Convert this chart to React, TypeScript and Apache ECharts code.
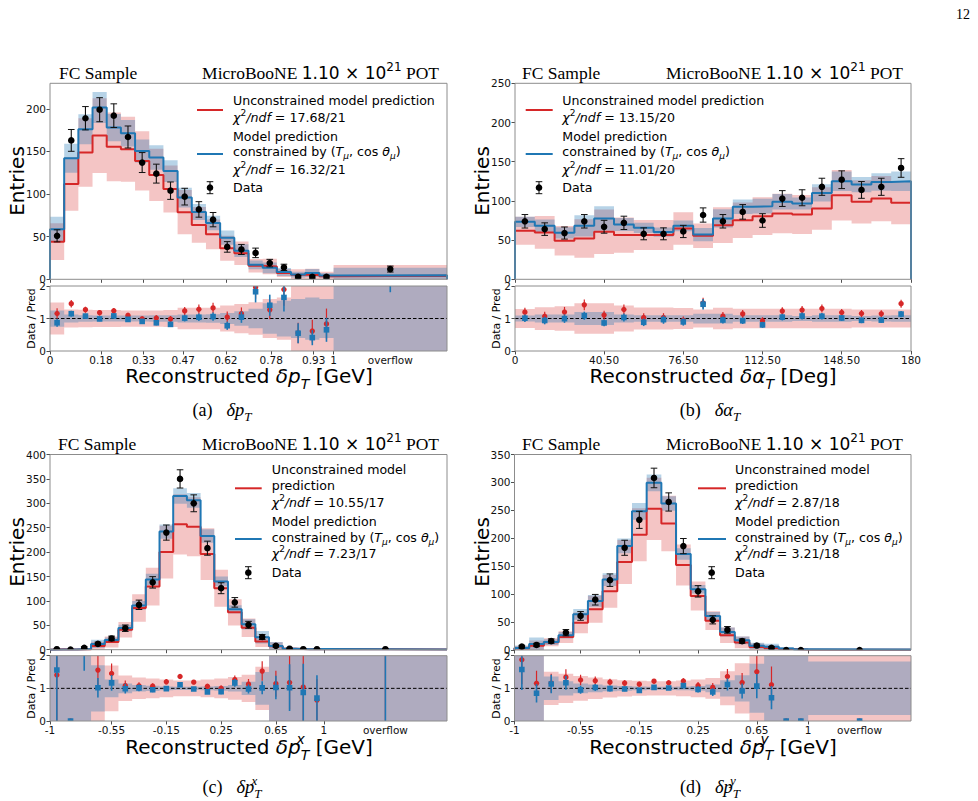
import { useEffect, useRef } from 'react';
import * as echarts from 'echarts';

const SANS = "'DejaVu Sans', 'Noto Sans', sans-serif";
const SERIF = "'Liberation Serif', 'DejaVu Serif', serif";
const RED = '#d62728';
const BLUE = '#1f77b4';
const RED_BAND = 'rgba(214, 39, 40, 0.27)';
const BLUE_BAND = 'rgba(31, 119, 180, 0.32)';
const FRAME = '#8c8c8c';

// ---------- (a) delta pT : 20 bins of 0.05 GeV + overflow ----------
const dptEdges = [0, 0.05, 0.1, 0.15, 0.2, 0.25, 0.3, 0.35, 0.4, 0.45, 0.5, 0.55, 0.6, 0.65, 0.7, 0.75, 0.8, 0.85, 0.9, 0.95, 1.0, 1.4];
const dptUnconstrained = [44.2, 111.9, 148.7, 168.7, 155.4, 152.6, 138.9, 122.5, 106.0, 78.7, 63.8, 52.8, 36.4, 30.5, 15.8, 15.0, 7.4, 5.4, 4.9, 3.6, 4.3];
const dptConstrained = [58.7, 142.0, 176.0, 201.6, 178.0, 171.4, 150.5, 143.0, 127.0, 95.9, 79.0, 66.1, 48.9, 33.6, 17.0, 13.5, 8.5, 5.5, 7.3, 4.6, 4.7];
const dptData = [51, 163, 189, 199, 192, 167, 137, 124, 104, 97, 82, 70, 38, 35, 31, 19, 14, 3, 3, 3, 12];
const dptDataErr = [7.1, 12.8, 13.7, 14.1, 13.9, 12.9, 11.7, 11.1, 10.2, 9.8, 9.1, 8.4, 6.2, 5.9, 5.6, 4.4, 3.7, 1.7, 1.7, 1.7, 3.5];
const dptUnconstrainedRelErr = [0.49, 0.28, 0.27, 0.26, 0.26, 0.25, 0.25, 0.25, 0.26, 0.33, 0.33, 0.33, 0.4, 0.45, 0.5, 0.6, 0.65, 1.2, 1.5, 1.5, 2.9];
const dptConstrainedRelErr = [0.25, 0.12, 0.1, 0.09, 0.09, 0.09, 0.09, 0.1, 0.1, 0.12, 0.12, 0.13, 0.17, 0.22, 0.3, 0.47, 0.55, 0.6, 0.65, 0.6, 1.9];
const dptTickValues = [0, 0.18, 0.33, 0.47, 0.62, 0.78, 0.93, 1];
const dptTickLabels = ['0', '0.18', '0.33', '0.47', '0.62', '0.78', '0.93', '1'];

// ---------- (b) delta alphaT : 20 bins of 9 deg ----------
const datEdges = [0, 9, 18, 27, 36, 45, 54, 63, 72, 81, 90, 99, 108, 117, 126, 135, 144, 153, 162, 171, 180];
const datUnconstrained = [61.9, 59.8, 49.2, 52.1, 60.6, 56.4, 56.4, 56.4, 64.8, 55.5, 69.0, 75.4, 80.5, 83.9, 82.6, 90.3, 107.2, 98.8, 103.0, 97.5];
const datConstrained = [73.3, 68.2, 59.3, 68.2, 77.6, 69.9, 65.7, 60.2, 68.2, 57.0, 77.6, 92.4, 93.3, 98.8, 96.6, 110.2, 125.0, 120.8, 124.2, 125.0];
const datData = [74, 64, 59, 74, 67, 72, 58, 58, 61, 82, 74, 86, 75, 103, 104, 118, 127, 114, 118, 142];
const datDataErr = [8.6, 8.0, 7.7, 8.6, 8.2, 8.5, 7.6, 7.6, 7.8, 9.1, 8.6, 9.3, 8.7, 10.1, 10.2, 10.9, 11.3, 10.7, 10.9, 11.9];
const datUnconstrainedRelErr = [0.29, 0.35, 0.38, 0.47, 0.47, 0.4, 0.34, 0.34, 0.32, 0.28, 0.33, 0.3, 0.3, 0.3, 0.3, 0.3, 0.3, 0.28, 0.28, 0.28];
const datConstrainedRelErr = [0.09, 0.12, 0.12, 0.2, 0.2, 0.12, 0.1, 0.1, 0.1, 0.15, 0.15, 0.1, 0.1, 0.1, 0.08, 0.1, 0.1, 0.08, 0.09, 0.1];
const datTickValues = [0, 40.5, 76.5, 112.5, 148.5, 180];
const datTickLabels = ['0', '40.50', '76.50', '112.50', '148.50', '180'];

// ---------- (c) delta pT^x : 20 bins of 0.1 GeV + overflow ----------
const dpxEdges = [-1, -0.9, -0.8, -0.7, -0.6, -0.5, -0.4, -0.3, -0.2, -0.1, 0, 0.1, 0.2, 0.3, 0.4, 0.5, 0.6, 0.7, 0.8, 0.9, 1.0, 1.9];
const dpxUnconstrained = [0.71, 0.5, 1.0, 7.7, 15.8, 40.7, 85.6, 129.3, 200.0, 257.0, 252.0, 196.0, 126.0, 76.6, 45.2, 17.0, 7.0, 1.7, 0.96, 1.56, 0.35];
const dpxConstrained = [0.64, 0.4, 1.3, 11.8, 19.7, 44.5, 90.7, 144.0, 242.0, 315.0, 306.0, 233.0, 140.0, 83.0, 52.0, 25.6, 7.8, 1.96, 1.14, 1.43, 0.4];
const dpxData = [1, 0, 4, 12, 23, 44, 92, 138, 240, 350, 300, 208, 126, 97, 51, 26, 8, 2, 1, 1, 1];
const dpxDataErr = [1, 0, 2, 3.5, 4.8, 6.6, 9.6, 11.7, 15.5, 18.7, 17.3, 14.4, 11.2, 9.8, 7.1, 5.1, 2.8, 1.4, 1, 1, 1];
const dpxUnconstrainedRelErr = [1.2, 1.2, 1.2, 1.1, 0.7, 0.39, 0.33, 0.3, 0.27, 0.24, 0.24, 0.27, 0.3, 0.35, 0.42, 0.66, 1.2, 1.2, 1.2, 1.2, 1.2];
const dpxConstrainedRelErr = [1.1, 1.1, 1.1, 0.71, 0.27, 0.15, 0.1, 0.08, 0.06, 0.05, 0.05, 0.06, 0.07, 0.1, 0.2, 0.5, 1.0, 1.0, 1.0, 1.0, 1.0];
const dpxyTickValues = [-1, -0.55, -0.15, 0.25, 0.65, 1];
const dpxyTickLabels = ['-1', '-0.55', '-0.15', '0.25', '0.65', '1'];

// ---------- (d) delta pT^y : 20 bins of 0.1 GeV + overflow ----------
const dpyEdges = [-1, -0.9, -0.8, -0.7, -0.6, -0.5, -0.4, -0.3, -0.2, -0.1, 0, 0.1, 0.2, 0.3, 0.4, 0.5, 0.6, 0.7, 0.8, 0.9, 1.0, 1.7];
const dpyUnconstrained = [3.2, 7.8, 13.8, 23.1, 48.6, 73.0, 105.0, 157.5, 206.5, 252.7, 226.4, 152.2, 96.6, 52.5, 26.4, 13.6, 5.3, 3.6, 2.0, 1.0, 0.6];
const dpyConstrained = [3.8, 10.6, 14.1, 26.5, 63.9, 87.9, 126.0, 186.4, 248.2, 299.3, 262.3, 171.9, 108.6, 60.9, 32.2, 17.4, 7.5, 5.6, 2.5, 1.2, 0.7];
const dpyData = [6, 9, 16, 31, 61, 90, 125, 183, 233, 308, 265, 186, 105, 54, 36, 16, 8, 4, 0, 0, 0];
const dpyDataErr = [2.4, 3.0, 4.0, 5.6, 7.8, 9.5, 11.2, 13.5, 15.3, 17.5, 16.3, 13.6, 10.2, 7.3, 6.0, 4.0, 2.8, 2.0, 0, 0, 0];
const dpyUnconstrainedRelErr = [1.2, 1.2, 0.51, 0.45, 0.38, 0.33, 0.28, 0.25, 0.23, 0.22, 0.22, 0.24, 0.27, 0.32, 0.52, 0.77, 1.2, 1.2, 1.2, 1.2, 1.2];
const dpyConstrainedRelErr = [1.1, 1.1, 0.36, 0.22, 0.15, 0.12, 0.09, 0.07, 0.06, 0.05, 0.05, 0.06, 0.07, 0.12, 0.25, 0.4, 0.75, 1.0, 1.0, 1.0, 0.82];

const ratioTicks = [0, 1, 2];

type Panel = {
  edges: number[]; unc: number[]; con: number[]; data: number[]; err: number[];
  uncRel: number[]; conRel: number[]; yMax: number; yTicks: number[];
  tickValues: number[]; tickLabels: string[]; overflowAt: number | null;
};

const PANELS: Panel[] = [
  { edges: dptEdges, unc: dptUnconstrained, con: dptConstrained, data: dptData, err: dptDataErr,
    uncRel: dptUnconstrainedRelErr, conRel: dptConstrainedRelErr, yMax: 230, yTicks: [0, 50, 100, 150, 200],
    tickValues: dptTickValues, tickLabels: dptTickLabels, overflowAt: 1.2 },
  { edges: datEdges, unc: datUnconstrained, con: datConstrained, data: datData, err: datDataErr,
    uncRel: datUnconstrainedRelErr, conRel: datConstrainedRelErr, yMax: 250, yTicks: [0, 50, 100, 150, 200, 250],
    tickValues: datTickValues, tickLabels: datTickLabels, overflowAt: null },
  { edges: dpxEdges, unc: dpxUnconstrained, con: dpxConstrained, data: dpxData, err: dpxDataErr,
    uncRel: dpxUnconstrainedRelErr, conRel: dpxConstrainedRelErr, yMax: 400, yTicks: [0, 50, 100, 150, 200, 250, 300, 350, 400],
    tickValues: dpxyTickValues, tickLabels: dpxyTickLabels, overflowAt: 1.45 },
  { edges: dpyEdges, unc: dpyUnconstrained, con: dpyConstrained, data: dpyData, err: dpyDataErr,
    uncRel: dpyUnconstrainedRelErr, conRel: dpyConstrainedRelErr, yMax: 350, yTicks: [0, 50, 100, 150, 200, 250, 300, 350],
    tickValues: dpxyTickValues, tickLabels: dpxyTickLabels, overflowAt: 1.35 },
];

// grid rectangles: [main, ratio] for each panel
const GRIDS = [
  [{ left: 50, top: 83.3, width: 397, height: 196 }, { left: 50, top: 286, width: 397, height: 65 }],
  [{ left: 515, top: 83.3, width: 396, height: 196 }, { left: 515, top: 286, width: 396, height: 65 }],
  [{ left: 50, top: 454.5, width: 397, height: 195.2 }, { left: 50, top: 655.7, width: 397, height: 65.3 }],
  [{ left: 514.5, top: 454.5, width: 396.5, height: 195.5 }, { left: 514.5, top: 655.7, width: 396.5, height: 65.3 }],
];

const stepPoints = (edges: number[], vals: number[]) => {
  const pts: number[][] = [[edges[0], 0]];
  vals.forEach((v, i) => pts.push([edges[i], v]));
  pts.push([edges[edges.length - 1], vals[vals.length - 1]]);
  pts.push([edges[edges.length - 1], 0]);
  return pts;
};

const bandSeries = (rows: number[][], fill: string, axis: number, z: number) => ({
  type: 'custom', xAxisIndex: axis, yAxisIndex: axis, z, clip: true, silent: true,
  data: rows,
  renderItem: (params: any, api: any) => {
    if (params.dataIndex !== 0) return null;
    const pts: number[][] = [];
    rows.forEach((r) => { pts.push(api.coord([r[0], r[3]])); pts.push(api.coord([r[1], r[3]])); });
    for (let i = rows.length - 1; i >= 0; i--) {
      pts.push(api.coord([rows[i][1], rows[i][2]]));
      pts.push(api.coord([rows[i][0], rows[i][2]]));
    }
    return { type: 'polygon', shape: { points: pts }, style: { fill } };
  },
});

const pointSeries = (rows: number[][], axis: number, z: number, kind: 'data' | 'red' | 'blue') => ({
  type: 'custom', xAxisIndex: axis, yAxisIndex: axis, z, clip: true, silent: true,
  data: rows,
  renderItem: (_params: any, api: any) => {
    const x = api.value(0), y = api.value(1), e = api.value(2);
    const c = api.coord([x, y]);
    const color = kind === 'data' ? '#111' : kind === 'red' ? RED : BLUE;
    const width = kind === 'data' ? 1.1 : kind === 'red' ? 1.2 : 1.6;
    const children: any[] = [];
    if (e > 0) {
      const t = api.coord([x, y + e]);
      const b = api.coord([x, y - e]);
      children.push({ type: 'line', shape: { x1: c[0], y1: t[1], x2: c[0], y2: b[1] }, style: { stroke: color, lineWidth: width } });
      if (kind === 'data') {
        children.push({ type: 'line', shape: { x1: c[0] - 3.3, y1: t[1], x2: c[0] + 3.3, y2: t[1] }, style: { stroke: color, lineWidth: 1 } });
        children.push({ type: 'line', shape: { x1: c[0] - 3.3, y1: b[1], x2: c[0] + 3.3, y2: b[1] }, style: { stroke: color, lineWidth: 1 } });
      }
    }
    if (kind === 'data') children.push({ type: 'circle', shape: { cx: c[0], cy: c[1], r: 3.3 }, style: { fill: '#000' } });
    else if (kind === 'red') children.push({ type: 'circle', shape: { cx: c[0], cy: c[1], r: 2.7 }, style: { fill: RED } });
    else children.push({ type: 'rect', shape: { x: c[0] - 2.8, y: c[1] - 2.8, width: 5.6, height: 5.6 }, style: { fill: BLUE } });
    return { type: 'group', children };
  },
});

const textEl = (x: number, y: number, text: string, extra: any = {}, rotation = 0) => {
  const { align = 'left', verticalAlign = 'middle', ...rest } = extra;
  return {
    type: 'text', x, y, rotation, silent: true, z: 100,
    style: { text, fill: '#000', align, verticalAlign, textAlign: align, textVerticalAlign: verticalAlign, ...rest },
  };
};

const legendRich = {
  n: { fontFamily: SANS, fontSize: 12.6, lineHeight: 18 },
  i: { fontFamily: SANS, fontSize: 12.6, fontStyle: 'italic', lineHeight: 18 },
  sup: { fontFamily: SANS, fontSize: 9, lineHeight: 10, verticalAlign: 'top' },
  sub: { fontFamily: SANS, fontSize: 9, fontStyle: 'italic', lineHeight: 10, verticalAlign: 'bottom' },
};
const chiText = (v: string) => `{i|χ}{sup|2}{i|/ndf}{n| = ${v}}`;
const constrainedText = '{n|constrained by (}{i|T}{sub|μ}{n|, cos }{i|θ}{sub|μ}{n|)}';

const titleRich = {
  s: { fontFamily: SERIF, fontSize: 17.5, lineHeight: 24 },
  m: { fontFamily: SANS, fontSize: 17, lineHeight: 24 },
  e: { fontFamily: SANS, fontSize: 12, lineHeight: 13, verticalAlign: 'top' },
};
const xTitleRich = {
  n: { fontFamily: SANS, fontSize: 20, lineHeight: 30 },
  i: { fontFamily: SANS, fontSize: 20, fontStyle: 'italic', lineHeight: 30 },
  sub: { fontFamily: SANS, fontSize: 14, fontStyle: 'italic', lineHeight: 16, verticalAlign: 'bottom' },
  sup: { fontFamily: SANS, fontSize: 14, fontStyle: 'italic', lineHeight: 16, verticalAlign: 'top', width: 0 },
};
const capRich = {
  n: { fontFamily: SERIF, fontSize: 18, lineHeight: 26 },
  g: { fontFamily: SERIF, fontSize: 18, lineHeight: 26, width: 14 },
  i: { fontFamily: SERIF, fontSize: 18.5, fontStyle: 'italic', lineHeight: 26 },
  sub: { fontFamily: SERIF, fontSize: 13, fontStyle: 'italic', lineHeight: 14, verticalAlign: 'bottom' },
  sup: { fontFamily: SERIF, fontSize: 13, fontStyle: 'italic', lineHeight: 14, verticalAlign: 'top', width: 0 },
};

const LEGENDS = [
  { hx0: 197, hx1: 223, tx: 233, redY: 110, blueY: 154, dot: [210, 187.7],
    rows: [[100.7, '{n|Unconstrained model prediction}'], [117, chiText('17.68/21')], [136.7, '{n|Model prediction}'],
      [151.7, constrainedText], [169, chiText('16.32/21')], [187.7, '{n|Data}']] },
  { hx0: 525.7, hx1: 552.7, tx: 562.3, redY: 110, blueY: 154, dot: [539, 187.7],
    rows: [[100.7, '{n|Unconstrained model prediction}'], [117, chiText('13.15/20')], [136.7, '{n|Model prediction}'],
      [151.7, constrainedText], [169, chiText('11.01/20')], [187.7, '{n|Data}']] },
  { hx0: 235, hx1: 261.7, tx: 271.7, redY: 488.3, blueY: 539, dot: [248.3, 572.7],
    rows: [[469.7, '{n|Unconstrained model}'], [485.7, '{n|prediction}'], [502.3, chiText('10.55/17')], [521.7, '{n|Model prediction}'],
      [537, constrainedText], [553.3, chiText('7.23/17')], [572.7, '{n|Data}']] },
  { hx0: 698, hx1: 726, tx: 735, redY: 488.3, blueY: 539, dot: [711.7, 572.7],
    rows: [[469.7, '{n|Unconstrained model}'], [485.7, '{n|prediction}'], [502.3, chiText('2.87/18')], [521.7, '{n|Model prediction}'],
      [537, constrainedText], [553.3, chiText('3.21/18')], [572.7, '{n|Data}']] },
];

const TITLES = [
  { fcX: 59, potX: 439, y: 73 },
  { fcX: 522, potX: 903, y: 73 },
  { fcX: 58, potX: 439, y: 444 },
  { fcX: 522, potX: 903, y: 444 },
];
const X_TITLES = [
  { x: 249, y: 376, text: '{n|Reconstructed }{i|δp}{sub|T}{n| [GeV]}' },
  { x: 713, y: 376, text: '{n|Reconstructed }{i|δα}{sub|T}{n| [Deg]}' },
  { x: 249, y: 747, text: '{n|Reconstructed }{i|δp}{sup|x}{sub|T}{n| [GeV]}' },
  { x: 713, y: 747, text: '{n|Reconstructed }{i|δp}{sup|y}{sub|T}{n| [GeV]}' },
];
const CAPTIONS = [
  { x: 222, y: 410, text: '{n|(a)}{g| }{i|δp}{sub|T}' },
  { x: 710, y: 410, text: '{n|(b)}{g| }{i|δα}{sub|T}' },
  { x: 232, y: 787, text: '{n|(c)}{g| }{i|δp}{sup|x}{sub|T}' },
  { x: 710, y: 787, text: '{n|(d)}{g| }{i|δp}{sup|y}{sub|T}' },
];
const Y_LABELS = [
  { entries: [17, 181], ratio: [31, 318.5] },
  { entries: [482, 181], ratio: [496, 318.5] },
  { entries: [17, 552], ratio: [31, 688.5] },
  { entries: [482, 552], ratio: [496, 688.5] },
];

function buildOption() {
  const grid: any[] = [];
  const xAxis: any[] = [];
  const yAxis: any[] = [];
  const series: any[] = [];
  const graphics: any[] = [];

  PANELS.forEach((p, k) => {
    const mi = 2 * k;
    const ri = 2 * k + 1;
    const xMin = p.edges[0];
    const xMax = p.edges[p.edges.length - 1];
    const n = p.data.length;
    const mid = (i: number) => (p.edges[i] + p.edges[i + 1]) / 2;

    GRIDS[k].forEach((g) => grid.push({
      ...g, show: true, borderColor: FRAME, borderWidth: 1, backgroundColor: 'rgba(0,0,0,0)', z: 10, containLabel: false,
    }));

    const labelValues = p.overflowAt == null ? p.tickValues : [...p.tickValues, p.overflowAt];
    const fmt = (v: number) => {
      if (p.overflowAt != null && Math.abs(v - p.overflowAt) < 1e-9) return 'overflow';
      const idx = p.tickValues.findIndex((t) => Math.abs(t - v) < 1e-9);
      return idx >= 0 ? p.tickLabels[idx] : '';
    };
    const tickStyle = { show: true, length: 3.5, lineStyle: { color: '#222', width: 0.8 } };
    const labelStyle = { fontSize: 10.5, fontFamily: SANS, color: '#111' };
    const noLine = { show: false, onZero: false };

    xAxis.push({
      type: 'value', gridIndex: mi, min: xMin, max: xMax, position: 'bottom',
      axisLine: noLine, splitLine: { show: false },
      axisTick: { ...tickStyle, customValues: p.tickValues }, axisLabel: { show: false },
    });
    xAxis.push({
      type: 'value', gridIndex: ri, min: xMin, max: xMax, position: 'bottom',
      axisLine: noLine, splitLine: { show: false },
      axisTick: { ...tickStyle, customValues: p.tickValues },
      axisLabel: { ...labelStyle, customValues: labelValues, formatter: fmt, margin: 3, hideOverlap: false },
    });
    yAxis.push({
      type: 'value', gridIndex: mi, min: 0, max: p.yMax, position: 'left',
      axisLine: noLine, splitLine: { show: false },
      axisTick: { ...tickStyle, customValues: p.yTicks },
      axisLabel: { ...labelStyle, customValues: p.yTicks, margin: 4 },
    });
    yAxis.push({
      type: 'value', gridIndex: ri, min: 0, max: 2, position: 'left',
      axisLine: noLine, splitLine: { show: false },
      axisTick: { ...tickStyle, customValues: ratioTicks },
      axisLabel: { ...labelStyle, customValues: ratioTicks, margin: 4 },
    });

    // main panel
    const uncBand = p.unc.map((v, i) => [p.edges[i], p.edges[i + 1], Math.max(0, v * (1 - p.uncRel[i])), v * (1 + p.uncRel[i])]);
    const conBand = p.con.map((v, i) => [p.edges[i], p.edges[i + 1], Math.max(0, v * (1 - p.conRel[i])), v * (1 + p.conRel[i])]);
    series.push(bandSeries(uncBand, RED_BAND, mi, 1));
    series.push(bandSeries(conBand, BLUE_BAND, mi, 1));
    series.push({
      type: 'line', xAxisIndex: mi, yAxisIndex: mi, z: 3, step: 'end', showSymbol: false, symbol: 'none', silent: true,
      data: stepPoints(p.edges, p.unc), lineStyle: { color: RED, width: 2 },
    });
    series.push({
      type: 'line', xAxisIndex: mi, yAxisIndex: mi, z: 3, step: 'end', showSymbol: false, symbol: 'none', silent: true,
      data: stepPoints(p.edges, p.con), lineStyle: { color: BLUE, width: 2 },
    });
    series.push(pointSeries(p.data.map((d, i) => [mid(i), d, p.err[i]]), mi, 4, 'data'));

    // ratio panel
    const uncRatioBand = p.uncRel.map((r, i) => [p.edges[i], p.edges[i + 1], Math.max(0, 1 - r), 1 + r]);
    const conRatioBand = p.conRel.map((r, i) => [p.edges[i], p.edges[i + 1], Math.max(0, 1 - r), 1 + r]);
    series.push(bandSeries(uncRatioBand, RED_BAND, ri, 1));
    series.push(bandSeries(conRatioBand, BLUE_BAND, ri, 1));
    series.push({
      type: 'line', xAxisIndex: ri, yAxisIndex: ri, z: 2, showSymbol: false, symbol: 'none', silent: true,
      data: [[xMin, 1], [xMax, 1]], lineStyle: { color: '#000', width: 1, type: [3.5, 2] },
    });
    const ratioRows = (pred: number[]) => {
      const rows: number[][] = [];
      for (let i = 0; i < n; i++) {
        if (pred[i] > 0) rows.push([mid(i), p.data[i] / pred[i], p.err[i] / pred[i]]);
      }
      return rows;
    };
    series.push(pointSeries(ratioRows(p.unc), ri, 3, 'red'));
    series.push(pointSeries(ratioRows(p.con), ri, 4, 'blue'));

    // titles above each main panel
    const t = TITLES[k];
    graphics.push(textEl(t.fcX, t.y, 'FC Sample', { font: `17.5px ${SERIF}` }));
    graphics.push(textEl(t.potX, t.y, '{s|MicroBooNE }{m|1.10 × 10}{e|21}{s| POT}', { align: 'right', rich: titleRich }));

    // legend
    const L = LEGENDS[k];
    graphics.push({ type: 'line', silent: true, z: 100, shape: { x1: L.hx0, y1: L.redY, x2: L.hx1, y2: L.redY }, style: { stroke: RED, lineWidth: 2 } });
    graphics.push({ type: 'line', silent: true, z: 100, shape: { x1: L.hx0, y1: L.blueY, x2: L.hx1, y2: L.blueY }, style: { stroke: BLUE, lineWidth: 2 } });
    const [dx, dy] = L.dot;
    graphics.push({ type: 'line', silent: true, z: 100, shape: { x1: dx, y1: dy - 6, x2: dx, y2: dy + 6 }, style: { stroke: '#111', lineWidth: 1.1 } });
    graphics.push({ type: 'line', silent: true, z: 100, shape: { x1: dx - 3.3, y1: dy - 6, x2: dx + 3.3, y2: dy - 6 }, style: { stroke: '#111', lineWidth: 1 } });
    graphics.push({ type: 'line', silent: true, z: 100, shape: { x1: dx - 3.3, y1: dy + 6, x2: dx + 3.3, y2: dy + 6 }, style: { stroke: '#111', lineWidth: 1 } });
    graphics.push({ type: 'circle', silent: true, z: 100, shape: { cx: dx, cy: dy, r: 3.3 }, style: { fill: '#000' } });
    L.rows.forEach(([y, txt]) => graphics.push(textEl(L.tx, y as number, txt as string, { rich: legendRich })));

    // axis titles and captions
    const Y = Y_LABELS[k];
    graphics.push(textEl(Y.entries[0], Y.entries[1], 'Entries', { align: 'center', font: `20px ${SANS}` }, Math.PI / 2));
    graphics.push(textEl(Y.ratio[0], Y.ratio[1], 'Data / Pred', { align: 'center', font: `10.8px ${SANS}` }, Math.PI / 2));
    const X = X_TITLES[k];
    graphics.push(textEl(X.x, X.y, X.text, { align: 'center', rich: xTitleRich }));
    const C = CAPTIONS[k];
    graphics.push(textEl(C.x, C.y, C.text, { align: 'center', rich: capRich }));
  });

  graphics.push(textEl(970, 14, '12', { align: 'right', font: `14px ${SERIF}` }));

  return {
    animation: false,
    backgroundColor: '#ffffff',
    grid, xAxis, yAxis, series,
    graphic: { elements: graphics },
  };
}

export default function App() {
  const ref = useRef<HTMLDivElement>(null);
  useEffect(() => {
    if (!ref.current) return;
    const chart = echarts.init(ref.current, undefined, { renderer: 'svg' });
    chart.setOption(buildOption() as any);
    return () => chart.dispose();
  }, []);
  return <div ref={ref} style={{ position: 'fixed', left: 0, top: 0, width: 978, height: 801, background: '#fff' }} />;
}
